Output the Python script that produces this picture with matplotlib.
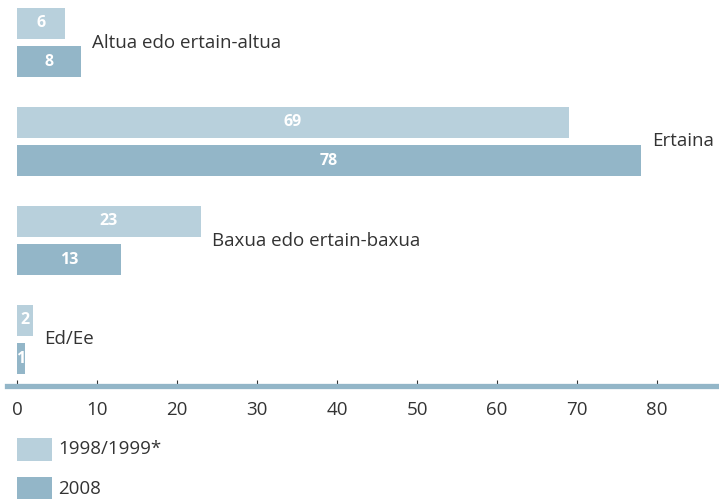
import matplotlib
matplotlib.use("Agg")
import matplotlib.pyplot as plt
from matplotlib.patches import Rectangle
import numpy as np

categories = ["Altua edo ertain-altua", "Ertaina", "Baxua edo ertain-baxua", "Ed/Ee"]
series_names = ["1998/1999*", "2008"]
values_1998 = [6, 69, 23, 2]
values_2008 = [8, 78, 13, 1]
xticks = [0, 10, 20, 30, 40, 50, 60, 70, 80]

LIGHT = "#b8d0dc"
DARK = "#93b6c8"
TEXT = "#333333"
plt.rcParams["font.family"] = ["Open Sans", "DejaVu Sans"]

W, H = 719, 499
fig = plt.figure(figsize=(W / 100, H / 100), dpi=100)
ax_left_px, axis_y_px = 7, 386
ax = fig.add_axes([ax_left_px / W, (H - axis_y_px) / H, (W - ax_left_px) / W, axis_y_px / H])
ax.set_xlim(-1.25, 87.75)
ax.set_ylim(axis_y_px, 0)

spacing = 99.0
first_center = 42.5
offset = 19.25
bar_h = 31
centers = first_center + spacing * np.arange(len(categories))

b1 = ax.barh(centers - offset, values_1998, height=bar_h, color=LIGHT, left=0)
b2 = ax.barh(centers + offset, values_2008, height=bar_h, color=DARK, left=0)

for bars, vals in ((b1, values_1998), (b2, values_2008)):
    for rect, v in zip(bars, vals):
        ax.text(v / 2, rect.get_y() + rect.get_height() / 2, str(v), ha="center", va="center",
                color="white", fontsize=11.5, fontweight="bold")

for c, name, v1, v2 in zip(centers, categories, values_1998, values_2008):
    ax.text(max(v1, v2) + 1.4, c, name, ha="left", va="center", color=TEXT, fontsize=13.5)

for s in ["top", "right", "left"]:
    ax.spines[s].set_visible(False)
ax.spines["bottom"].set_color(DARK)
ax.spines["bottom"].set_linewidth(3.8)
ax.set_yticks([])
ax.set_xticks(xticks)
ax.tick_params(axis="x", direction="in", length=4.6, width=0.8, color=TEXT,
               labelsize=13.5, labelcolor=TEXT, pad=11)

# legend
leg_y = [449.5, 488.5]
for yc, name, col in zip(leg_y, series_names, [LIGHT, DARK]):
    fig.add_artist(Rectangle((17 / W, (H - yc - 11.5) / H), 35 / W, 23 / H,
                             transform=fig.transFigure, color=col, lw=0))
    fig.text(58 / W, (H - yc) / H, name, ha="left", va="center", color=TEXT, fontsize=13.5)

fig.savefig("out.png", dpi=100)
